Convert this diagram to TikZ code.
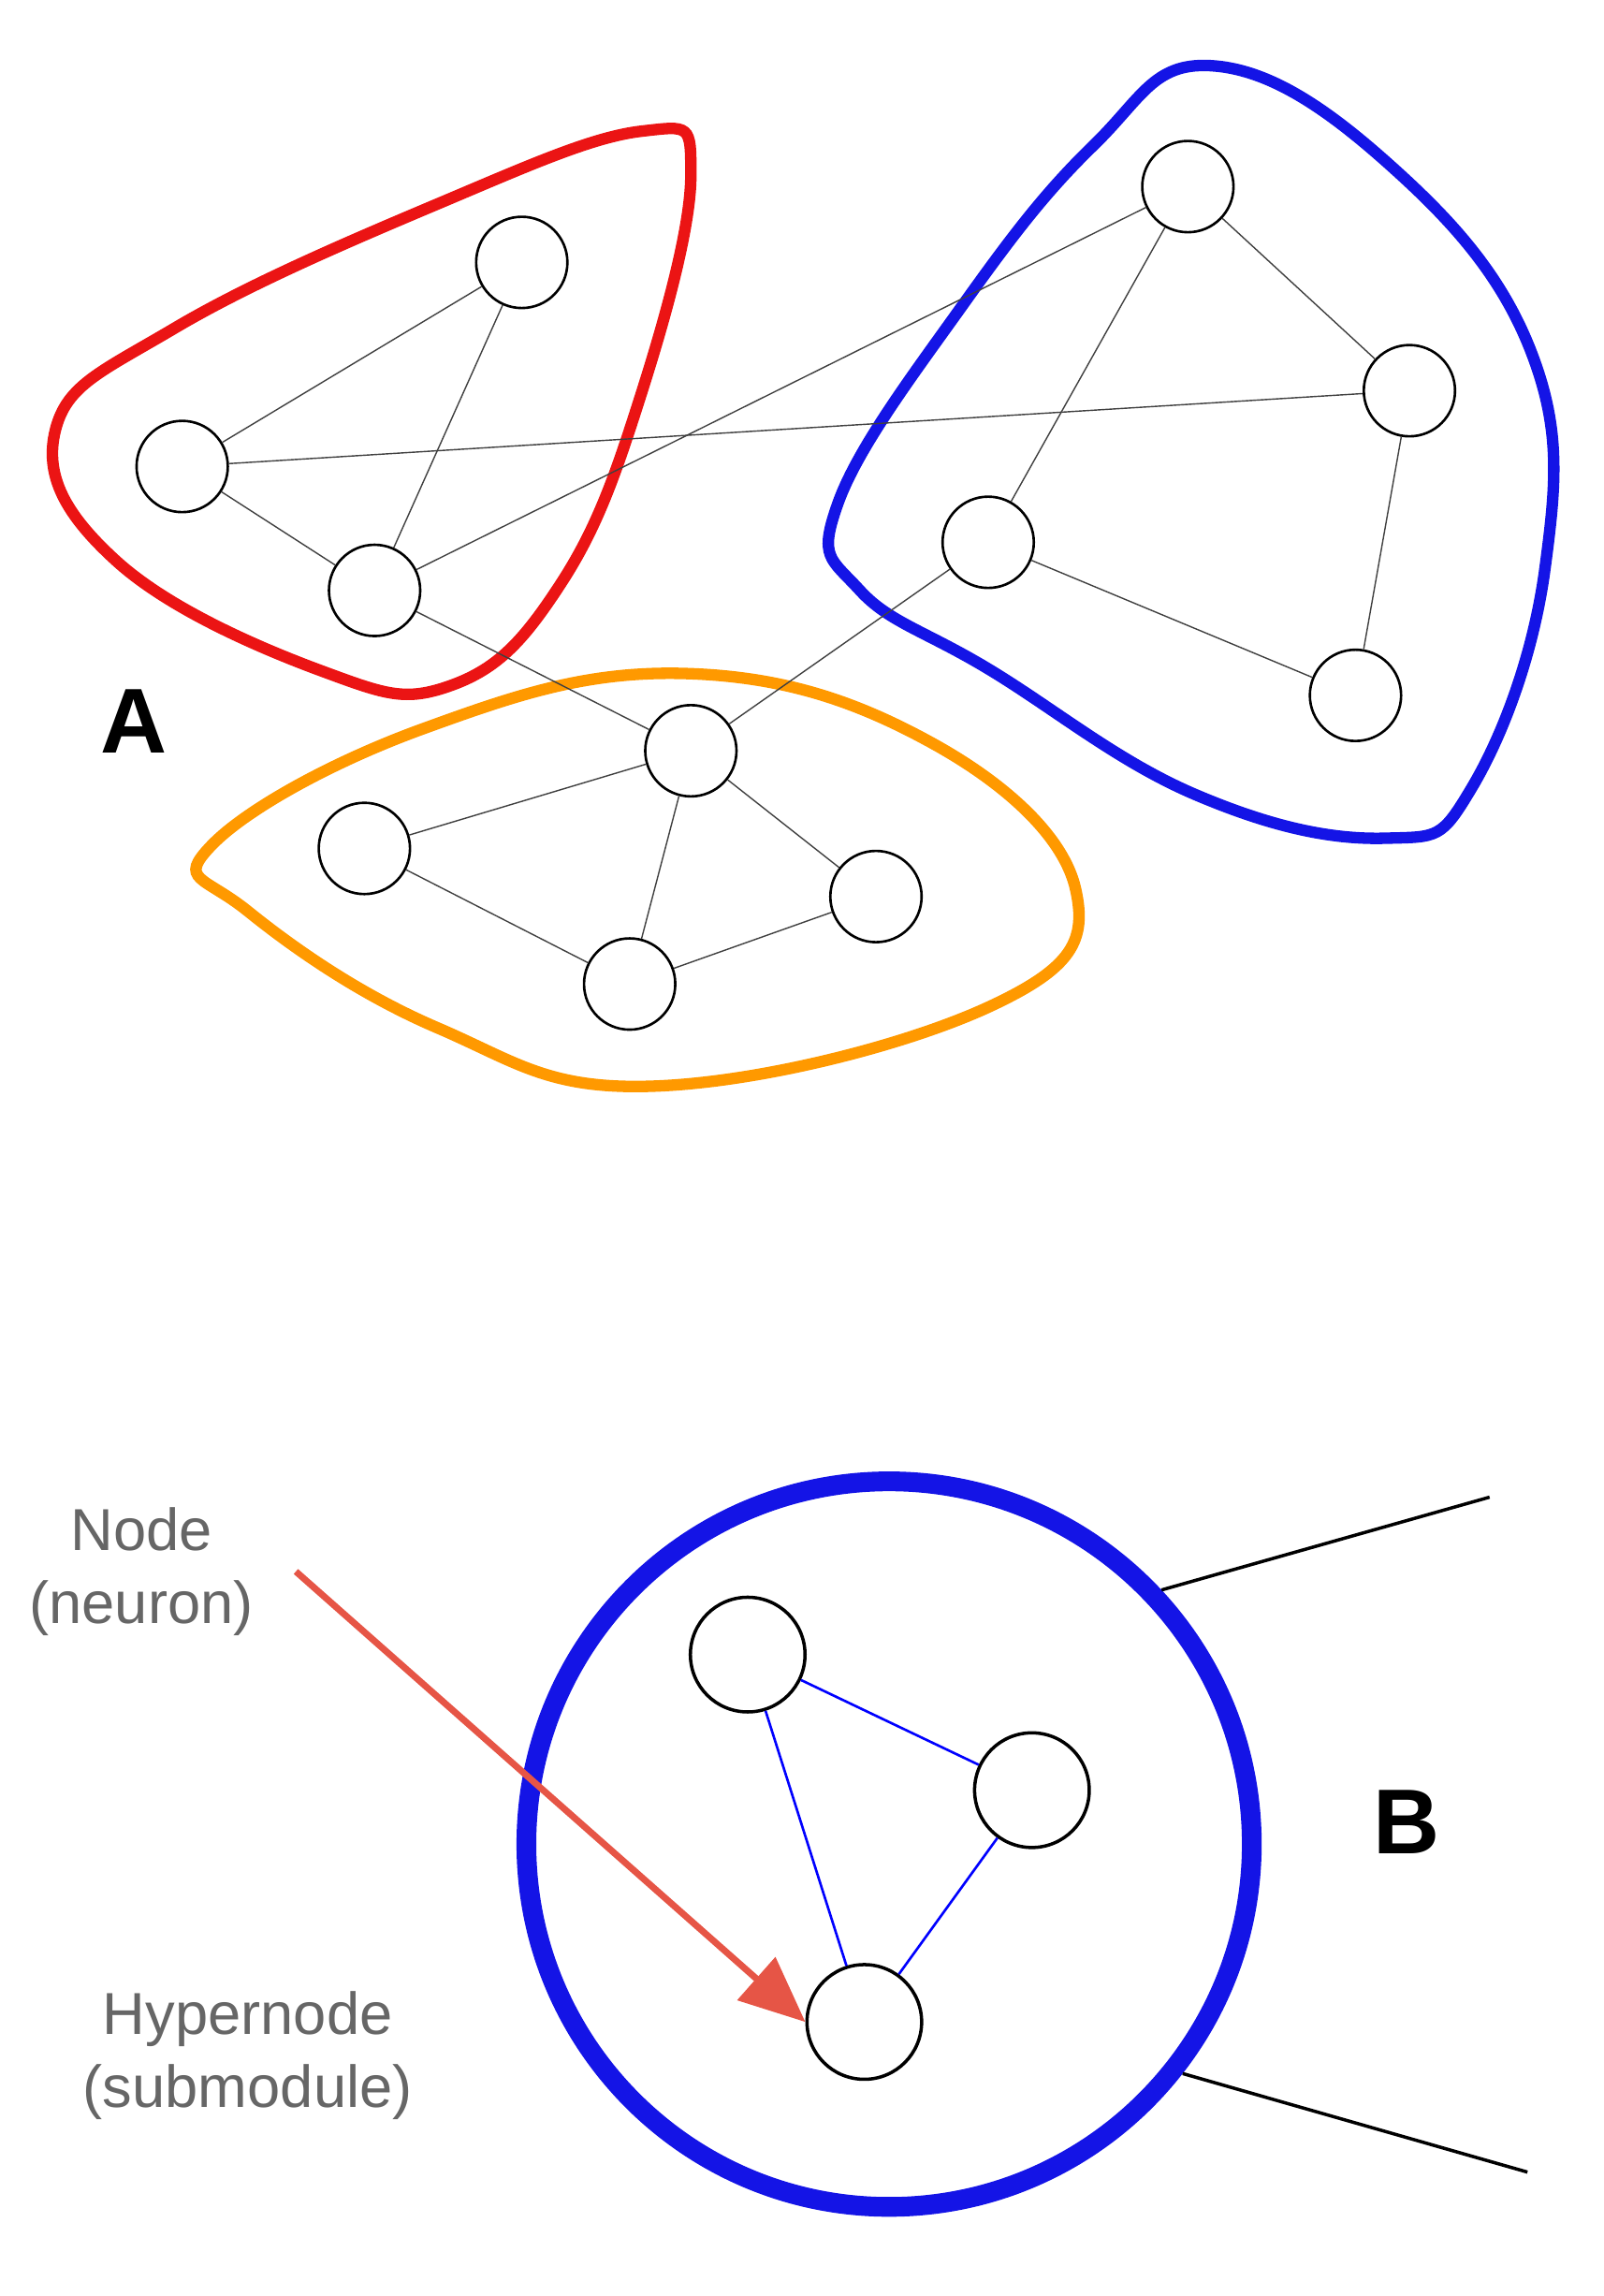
\documentclass[tikz,border=0pt]{standalone}
\usepackage{fontspec}
\usetikzlibrary{arrows.meta}
\setmainfont{Liberation Sans}
\begin{document}
\begin{tikzpicture}[x=0.03114cm,y=-0.03114cm,
  nd/.style={circle,draw=black,line width=1.5pt,fill=white,minimum size=1.95cm,inner sep=0pt},
  bn/.style={circle,draw=black,line width=2pt,fill=white,minimum size=2.45cm,inner sep=0pt},
  ed/.style={draw=black!75,line width=0.8pt},
  blob/.style={line width=7pt}]
\useasboundingbox (0,0) rectangle (1100,1575);
% blobs
\draw[blob,color={rgb,255:red,235;green,20;blue,20}] plot[smooth cycle,tension=0.7] coordinates{(38,295)(120,225)(300,140)(440,90)(474,120)(440,270)(385,400)(310,470)(220,460)(80,385)};
\draw[blob,color={rgb,255:red,20;green,20;blue,230}] plot[smooth cycle,tension=0.7] coordinates{(575,345)(660,210)(750,100)(830,45)(950,110)(1050,240)(1060,390)(1010,540)(950,575)(820,545)(680,460)(590,405)};
\draw[blob,color={rgb,255:red,255;green,153;blue,0}] plot[smooth cycle,tension=0.7] coordinates{(145,580)(290,500)(470,462)(640,510)(738,610)(680,690)(450,745)(300,705)(170,625)};
% nodes
\node[nd] (r1) at (358,180) {};
\node[nd] (r2) at (125,320) {};
\node[nd] (r3) at (257,405) {};
\node[nd] (b1) at (815,128) {};
\node[nd] (b2) at (967,268) {};
\node[nd] (b3) at (678,372) {};
\node[nd] (b4) at (930,477) {};
\node[nd] (o1) at (474,515) {};
\node[nd] (o2) at (250,582) {};
\node[nd] (o3) at (601,615) {};
\node[nd] (o4) at (432,675) {};
\foreach \a/\b in {r1/r2,r1/r3,r2/r3,r2/b2,r3/b1,r3/o1,b1/b2,b1/b3,b2/b4,b3/b4,b3/o1,o1/o2,o1/o4,o1/o3,o2/o4,o4/o3}
  \draw[ed] (\a) -- (\b);
\node[font=\bfseries\fontsize{56}{64}\selectfont] (A) at (92,495) {A};
% part B
\node[circle,draw={rgb,255:red,20;green,20;blue,230},line width=12pt,minimum size=15.5cm,inner sep=0pt] (H) at (610,1265) {};
\coordinate (e1) at (1022,1027);
\coordinate (e2) at (1048,1490);
\draw[line width=2pt] (H.43) -- (e1);
\draw[line width=2pt] (H.-38) -- (e2);
\node[bn] (n1) at (513,1135) {};
\node[bn] (n2) at (708,1228) {};
\node[bn] (n3) at (593,1387) {};
\draw[blue,line width=1.5pt] (n1) -- (n2) (n2) -- (n3) (n3) -- (n1);
\node[font=\bfseries\fontsize{56}{64}\selectfont] (B) at (965,1250) {B};
\node[text=black!60,font=\fontsize{36}{44}\selectfont,align=center] (t1) at (97,1078) {Node\\(neuron)};
\node[text=black!60,font=\fontsize{36}{44}\selectfont,align=center] (t2) at (170,1410) {Hypernode\\(submodule)};
\coordinate (as) at (203,1078);
\draw[line width=4pt,color={rgb,255:red,230;green,85;blue,70},-{Triangle[length=1.4cm,width=1.2cm]}] (as) -- (n3.west);
\end{tikzpicture}
\end{document}
